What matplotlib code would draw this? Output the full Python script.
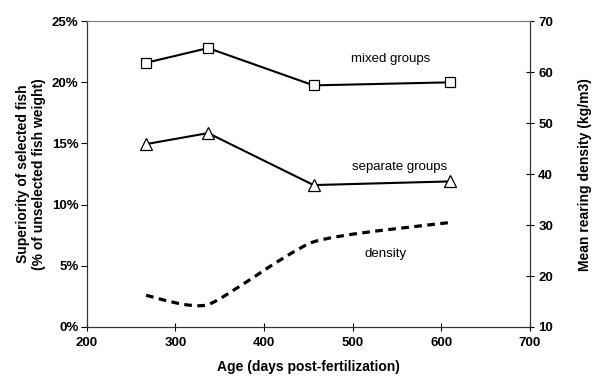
import matplotlib
matplotlib.use("Agg")
import matplotlib.pyplot as plt
from matplotlib.path import Path
from matplotlib.patches import PathPatch
from matplotlib.ticker import PercentFormatter

plt.rcParams['font.family'] = ['Liberation Sans', 'DejaVu Sans']

age = [267, 337, 456, 610]
mixed = [21.6, 22.8, 19.75, 20.0]
separate = [14.95, 15.85, 11.6, 11.9]
density = [16.2, 14.4, 26.7, 30.5]


def smooth_path(xs, ys, k=10.0):
    # Excel-like smoothed line: bezier segments through the points
    pts = list(zip(xs, ys))
    verts = [pts[0]]
    codes = [Path.MOVETO]
    n = len(pts)
    for i in range(n - 1):
        p0 = pts[i - 1] if i > 0 else pts[i]
        p1 = pts[i]
        p2 = pts[i + 1]
        p3 = pts[i + 2] if i + 2 < n else pts[i + 1]
        c1 = (p1[0] + (p2[0] - p0[0]) / k, p1[1] + (p2[1] - p0[1]) / k)
        c2 = (p2[0] - (p3[0] - p1[0]) / k, p2[1] - (p3[1] - p1[1]) / k)
        verts += [c1, c2, p2]
        codes += [Path.CURVE4] * 3
    return Path(verts, codes)


fig = plt.figure(figsize=(5.98, 3.78), dpi=100)
ax = fig.add_axes([0.145, 0.135, 0.741, 0.809])
ax2 = ax.twinx()

ax.plot(age, mixed, color='black', lw=1.5, marker='s', markersize=7,
        markerfacecolor='white', markeredgecolor='black', markeredgewidth=0.9)
ax.plot(age, separate, color='black', lw=1.5, marker='^', markersize=9,
        markerfacecolor='white', markeredgecolor='black', markeredgewidth=0.9)

patch = PathPatch(smooth_path(age, density), facecolor='none', edgecolor='black',
                  lw=2.3, linestyle=(0, (2.4, 1.7)), capstyle='butt')
ax2.add_patch(patch)

fs = 9.5
ax.text(543, 21.9, 'mixed groups', ha='center', va='center', fontsize=fs)
ax.text(553, 13.1, 'separate groups', ha='center', va='center', fontsize=fs)
ax.text(537, 5.95, 'density', ha='center', va='center', fontsize=fs)

ax.set_xlim(200, 700)
ax.set_ylim(0, 25)
ax2.set_ylim(10, 70)
ax.set_xticks([200, 300, 400, 500, 600, 700])
ax.set_yticks([0, 5, 10, 15, 20, 25])
ax2.set_yticks([10, 20, 30, 40, 50, 60, 70])
ax.yaxis.set_major_formatter(PercentFormatter(xmax=100, decimals=0))

ax.tick_params(axis='y', direction='out', length=4, width=0.8, labelsize=fs, pad=2)
ax.tick_params(axis='x', direction='inout', length=6, width=0.8, labelsize=fs, pad=4)
ax2.tick_params(axis='y', direction='inout', length=6, width=0.8, labelsize=fs, pad=3)
for lab in ax.get_xticklabels() + ax.get_yticklabels() + ax2.get_yticklabels():
    lab.set_fontweight('bold')

for a in (ax, ax2):
    a.spines['top'].set_color('#808080')
    a.spines['left'].set_color('#333333')
    a.spines['right'].set_color('#333333')
    a.spines['bottom'].set_color('#333333')

lfs = 10
ax.set_xlabel('Age (days post-fertilization)', fontsize=lfs, fontweight='bold', labelpad=8)
ax.set_ylabel('Superiority of selected fish\n(% of unselected fish weight)', fontsize=lfs,
              fontweight='bold', labelpad=4)
ax2.set_ylabel('Mean rearing density (kg/m3)', fontsize=lfs, fontweight='bold', labelpad=18)

fig.savefig('out.png', dpi=100)
